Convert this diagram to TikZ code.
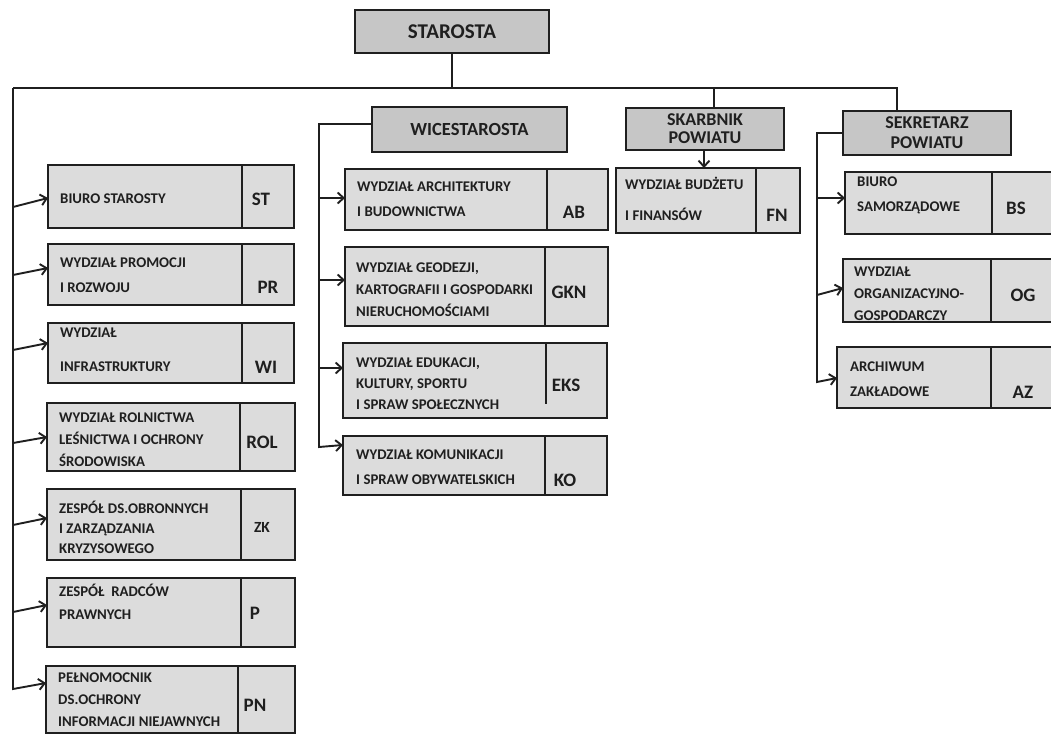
\documentclass[tikz,border=0pt]{standalone}
\usepackage{fontspec}
\setmainfont{Carlito}
\usetikzlibrary{arrows.meta}
\definecolor{ink}{HTML}{1F1F1F}
\definecolor{ufill}{HTML}{DCDCDC}
\definecolor{hfill}{HTML}{C6C6C6}
\tikzset{
 ubx/.style={draw=ink, line width=2.6pt, fill=ufill, inner sep=0pt, outer sep=0pt},
 hbx/.style={draw=ink, line width=2.6pt, fill=hfill, inner sep=0pt, outer sep=0pt, text=ink, align=center, anchor=north west},
 lbl/.style={text=ink, font=\bfseries\fontsize{14.8}{#1}\selectfont, align=left, inner sep=0pt, anchor=west},
 lbl/.default=25,
 abr/.style={text=ink, font=\bfseries\fontsize{19}{18}\selectfont, inner sep=0pt},
 con/.style={draw=ink, line width=1.9pt},
 arr/.style={con, -{Straight Barb[length=6pt,width=11pt,line width=1.9pt]}},
 sepl/.style={draw=ink, line width=2pt},
}
% name, x1, y1, x2, y2, separator x
\newcommand\unitbox[6]{%
 \node[ubx, anchor=north west, minimum width={(#4-#2)*1pt}, minimum height={(#5-#3)*1pt}] (#1) at (#2,#3) {};
 \draw[sepl] (#6,#3) -- (#6,#5);
}
\begin{document}
\begin{tikzpicture}[x=1pt,y=-1pt]
\useasboundingbox (0,0) rectangle (1051,736);
\begin{scope}
\clip (0,0) rectangle (1051,736);
% header boxes
\node[hbx, minimum width=194pt, minimum height=43pt, font=\bfseries\fontsize{21}{20}\selectfont] (staro) at (355,10) {STAROSTA};
\node[hbx, minimum width=195pt, minimum height=45pt, font=\bfseries\fontsize{18.5}{20}\selectfont] (wice) at (372,107) {WICESTAROSTA};
\node[hbx, minimum width=158pt, minimum height=42pt, font=\bfseries\fontsize{18}{18}\selectfont] (skarb) at (626,108) {SKARBNIK\\POWIATU};
\node[hbx, minimum width=168pt, minimum height=44pt, font=\bfseries\fontsize{18}{20}\selectfont] (sek) at (843,111) {SEKRETARZ\\POWIATU};

% left column
\unitbox{st}{48}{165}{294}{228}{242}
\node[lbl] (stt) at (60,199) {BIURO STAROSTY};
\node[abr] (sta) at (261,199) {ST};
\unitbox{pr}{48}{244}{294}{305}{242}
\node[lbl=25] (prt) at (60,275.5) {WYDZIAŁ PROMOCJI\\I ROZWOJU};
\node[abr] (pra) at (268,287) {PR};
\unitbox{wi}{48}{323}{294}{383}{242}
\node[lbl=34] (wit) at (60,350) {WYDZIAŁ\\INFRASTRUKTURY};
\node[abr] (wia) at (266,367) {WI};
\unitbox{rol}{47}{403}{295}{471}{240}
\node[lbl=22] (rolt) at (59,440) {WYDZIAŁ ROLNICTWA\\LEŚNICTWA I OCHRONY\\ŚRODOWISKA};
\node[abr] (rola) at (262,442) {ROL};
\unitbox{zk}{47}{489}{295}{560}{241}
\node[lbl=20] (zkt) at (59,527) {ZESPÓŁ DS.OBRONNYCH\\I ZARZĄDZANIA\\KRYZYSOWEGO};
\node[abr, font=\bfseries\fontsize{15.5}{15}\selectfont] (zka) at (262,527) {ZK};
\unitbox{p}{47}{578}{295}{647}{241}
\node[lbl=23] (pt) at (59,601.5) {ZESPÓŁ\ \ RADCÓW\\PRAWNYCH};
\node[abr] (pa) at (255,613) {P};
\unitbox{pn}{46}{666}{295}{733}{238}
\node[lbl=22] (pnt) at (58,700) {PEŁNOMOCNIK\\DS.OCHRONY\\INFORMACJI NIEJAWNYCH};
\node[abr] (pna) at (255,705) {PN};

% middle column
\unitbox{ab}{345}{169}{608}{230}{547}
\node[lbl=25] (abt) at (357,199.5) {WYDZIAŁ ARCHITEKTURY\\I BUDOWNICTWA};
\node[abr] (aba) at (574,212) {AB};
\unitbox{gkn}{345}{247}{608}{326}{545}
\node[lbl=22] (gknt) at (356,290) {WYDZIAŁ GEODEZJI,\\KARTOGRAFII I GOSPODARKI\\NIERUCHOMOŚCIAMI};
\node[abr] (gkna) at (569,292) {GKN};
\node[ubx, anchor=north west, minimum width=264pt, minimum height=75pt] (eks) at (343,343) {};
\draw[sepl] (546,343) -- (546,404);
\node[lbl=21] (ekst) at (356,384) {WYDZIAŁ EDUKACJI,\\KULTURY, SPORTU\\I SPRAW SPOŁECZNYCH};
\node[abr] (eksa) at (566,385) {EKS};
\unitbox{ko}{343}{436}{607}{495}{545}
\node[lbl=25] (kot) at (356,467.5) {WYDZIAŁ KOMUNIKACJI\\I SPRAW OBYWATELSKICH};
\node[abr] (koa) at (565,480) {KO};

% skarbnik
\unitbox{fn}{616}{168}{800}{233}{756}
\node[lbl=31] (fnt) at (625,198.5) {WYDZIAŁ BUDŻETU\\I FINANSÓW};
\node[abr] (fna) at (777,215) {FN};

% sekretarz
\unitbox{bs}{845}{172}{1058}{234}{992}
\node[lbl=25] (bst) at (857,195.5) {BIURO\\SAMORZĄDOWE};
\node[abr] (bsa) at (1016,208) {BS};
\unitbox{og}{843}{259}{1058}{322}{991}
\node[lbl=22] (ogt) at (854,294) {WYDZIAŁ\\ORGANIZACYJNO-\\GOSPODARCZY};
\node[abr] (oga) at (1023,295) {OG};
\unitbox{az}{837}{347}{1058}{408}{991}
\node[lbl=25] (azt) at (850,379.5) {ARCHIWUM\\ZAKŁADOWE};
\node[abr] (aza) at (1023,392) {AZ};

% main connectors
\coordinate (tl) at (13,88);
\coordinate (tr) at (897,88);
\coordinate (sk) at (714,88);
\coordinate (lb) at (13,689);
\draw[con] (staro.south) -- (staro.south |- tl);
\draw[con] (tl) -- (tr) -- (tr |- sek.north);
\draw[con] (sk) -- (sk |- skarb.north);
\draw[arr] (tl) -- (lb) -- ([yshift=-17pt]pn.north west);
\coordinate (l1) at (13,207);
\coordinate (l2) at (13,275);
\coordinate (l3) at (13,350);
\coordinate (l4) at (13,443);
\coordinate (l5) at (13,525);
\coordinate (l6) at (13,612);
\draw[arr] (l1) -- ([yshift=-33pt]st.north west);
\draw[arr] (l2) -- ([yshift=-24pt]pr.north west);
\draw[arr] (l3) -- ([yshift=-20pt]wi.north west);
\draw[arr] (l4) -- ([yshift=-34pt]rol.north west);
\draw[arr] (l5) -- ([yshift=-29pt]zk.north west);
\draw[arr] (l6) -- ([yshift=-27pt]p.north west);

% wicestarosta
\coordinate (mt) at (319,124);
\coordinate (mb) at (319,447);
\coordinate (m1) at (319,198);
\coordinate (m2) at (319,280);
\coordinate (m3) at (319,368);
\draw[arr] ([yshift=5.5pt]wice.west) -- (mt) -- (mb) -- ([yshift=-9pt]ko.north west);
\draw[arr] (m1) -- ([yshift=-29pt]ab.north west);
\draw[arr] (m2) -- ([yshift=-33pt]gkn.north west);
\draw[arr] (m3) -- ([yshift=-25pt]eks.north west);

% skarbnik
\draw[arr] ([xshift=-1pt]skarb.south) -- ([xshift=-1pt]skarb.south |- fn.north);

% sekretarz
\coordinate (rt) at (817,133);
\coordinate (rb) at (817,382);
\coordinate (r1) at (817,198);
\coordinate (r2) at (817,295);
\draw[arr] (sek.west) -- (rt) -- (rb) -- ([yshift=-31pt]az.north west);
\draw[arr] (r1) -- ([yshift=-26pt]bs.north west);
\draw[arr] (r2) -- ([yshift=-29pt]og.north west);
\end{scope}
\end{tikzpicture}
\end{document}
